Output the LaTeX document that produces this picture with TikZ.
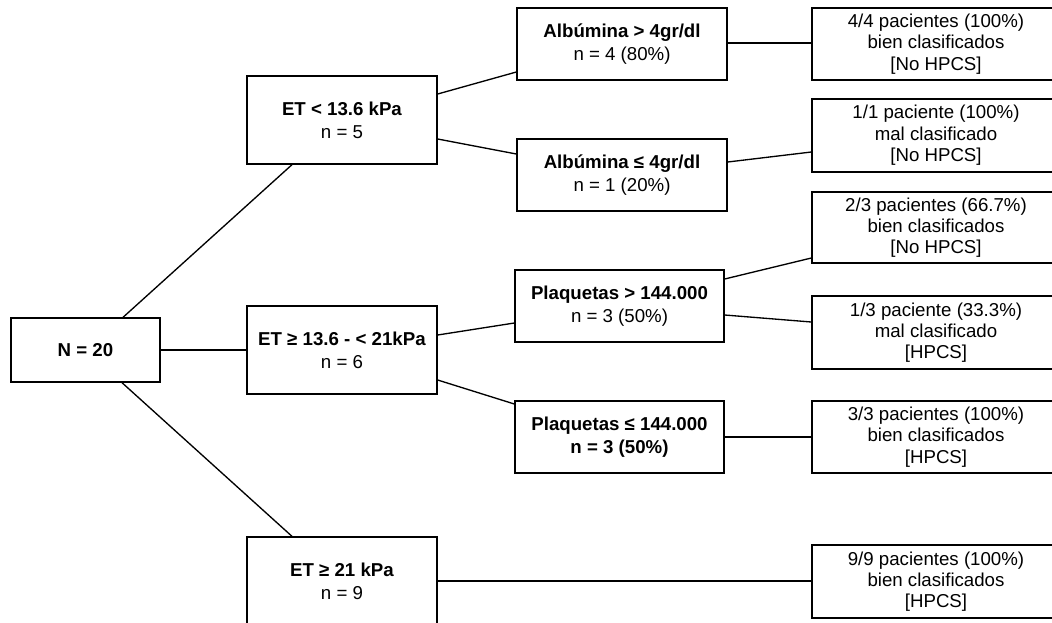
\documentclass[tikz,border=0pt]{standalone}
\usepackage{fontspec}
\setmainfont{Liberation Sans}
\usetikzlibrary{calc}
\tikzset{
  box/.style={draw=black, line width=1pt, fill=white, inner sep=0pt, align=center,
    font=\fontsize{14}{17.25}\selectfont},
  leafbox/.style={box, minimum width=186pt, font=\fontsize{14}{16}\selectfont},
  conn/.style={draw=black, line width=1pt}
}
\begin{document}
\begin{tikzpicture}[x=0.75pt,y=-0.75pt]
\useasboundingbox (0,0) rectangle (1052,622);
\clip (0,0) rectangle (1052,622);
% root
\node[box, minimum width=111.75pt, minimum height=48pt] (root) at (85.5,350) {\textbf{N = 20}};
% level 1
\node[box, minimum width=142.5pt, minimum height=66pt] (eta) at (342,120) {\textbf{ET < 13.6 kPa}\\n = 5};
\node[box, minimum width=142.5pt, minimum height=66pt] (etb) at (342,350) {\textbf{ET ≥ 13.6 - < 21kPa}\\n = 6};
\node[box, minimum width=142.5pt, minimum height=66pt] (etc) at (342,581) {\textbf{ET ≥ 21 kPa}\\n = 9};
% level 2
\node[box, minimum width=157.5pt, minimum height=54pt] (alba) at (622,44) {\textbf{Albúmina > 4gr/dl}\\n = 4 (80\%)};
\node[box, minimum width=157.5pt, minimum height=54pt] (albb) at (622,175) {\textbf{Albúmina ≤ 4gr/dl}\\n = 1 (20\%)};
\node[box, minimum width=156.75pt, minimum height=54pt] (plqa) at (619.5,306) {\textbf{Plaquetas > 144.000}\\n = 3 (50\%)};
\node[box, minimum width=156.75pt, minimum height=54pt] (plqb) at (619.5,437) {\textbf{Plaquetas ≤ 144.000}\\\textbf{n = 3 (50\%)}};
% leaves
\node[leafbox, minimum height=54pt] (l1) at (936,44) {4/4 pacientes (100\%)\\bien clasificados\\{[No HPCS]}};
\node[leafbox, minimum height=54.75pt] (l2) at (936,135.5) {1/1 paciente (100\%)\\mal clasificado\\{[No HPCS]}};
\node[leafbox, minimum height=53.25pt] (l3) at (936,227.5) {2/3 pacientes (66.7\%)\\bien clasificados\\{[No HPCS]}};
\node[leafbox, minimum height=54.75pt] (l4) at (936,332.5) {1/3 paciente (33.3\%)\\mal clasificado\\{[HPCS]}};
\node[leafbox, minimum height=54pt] (l5) at (936,437) {3/3 pacientes (100\%)\\bien clasificados\\{[HPCS]}};
\node[leafbox, minimum height=54.75pt] (l6) at (936,581.5) {9/9 pacientes (100\%)\\bien clasificados\\{[HPCS]}};
% connectors
\coordinate (a1) at ($(alba.east)+(0,-1)$);
\draw[conn] ($(root.north)+(37.5,0)$) -- ($(eta.south)+(-50,0)$);
\draw[conn] (root.east) -- (etb.west);
\draw[conn] ($(root.south)+(36.5,0)$) -- ($(etc.north)+(-50,0)$);
\draw[conn] ($(eta.east)+(0,-26)$) -- ($(alba.west)+(0,28)$);
\draw[conn] ($(eta.east)+(0,19)$) -- ($(albb.west)+(0,-21)$);
\draw[conn] (a1) -- (a1 -| l1.west);
\draw[conn] ($(albb.east)+(0,-13)$) -- ($(l2.west)+(0,16.5)$);
\draw[conn] ($(etb.east)+(0,-15)$) -- ($(plqa.west)+(0,17)$);
\draw[conn] ($(etb.east)+(0,30)$) -- ($(plqb.west)+(0,-33)$);
\draw[conn] ($(plqa.east)+(0,-27)$) -- ($(l3.west)+(0,30.5)$);
\draw[conn] ($(plqa.east)+(0,9)$) -- ($(l4.west)+(0,-10.5)$);
\draw[conn] (plqb.east) -- (plqb.east -| l5.west);
\draw[conn] (etc.east) -- (etc.east -| l6.west);
\end{tikzpicture}
\end{document}
